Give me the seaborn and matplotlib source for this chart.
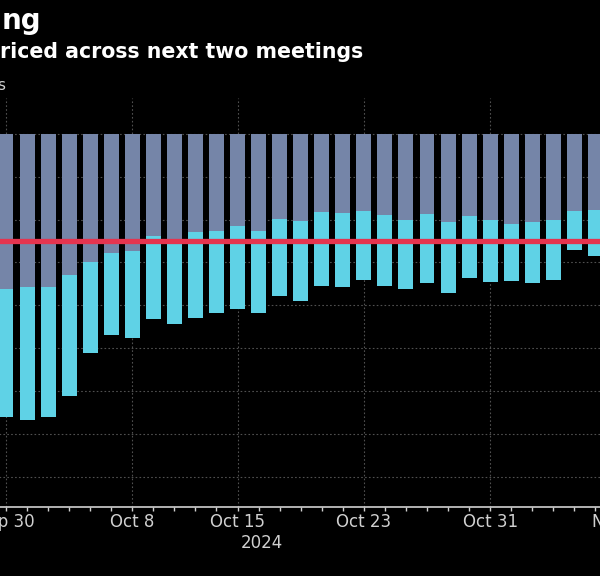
import pandas as pd
import matplotlib
matplotlib.use("Agg")
import matplotlib.pyplot as plt
import seaborn as sns


# business days shown on the axis (last one only carries a tick label)
days = pd.bdate_range('2024-09-30', '2024-11-08')
day_keys = [d.strftime('%Y-%m-%d') for d in days]

# bps of cuts priced, first meeting and both meetings together
first_meeting = [-36.1, -35.8, -35.7, -32.9, -29.9, -27.7, -27.3, -23.8, -25.0, -23.0,
                 -22.6, -21.5, -22.7, -19.8, -20.3, -18.2, -18.4, -18.1, -18.9, -20.1,
                 -18.7, -20.6, -19.2, -20.0, -21.0, -20.6, -20.1, -18.1, -17.8]
both_meetings = [-66.2, -66.7, -66.0, -61.1, -51.2, -47.0, -47.7, -43.2, -44.4, -42.9,
                 -41.7, -40.8, -41.7, -37.9, -39.0, -35.4, -35.8, -34.0, -35.4, -36.2,
                 -34.8, -37.1, -33.6, -34.6, -34.3, -34.7, -34.0, -27.2, -28.4]

tick_labels = {'2024-09-30': 'Sep 30', '2024-10-08': 'Oct 8', '2024-10-15': 'Oct 15',
               '2024-10-23': 'Oct 23', '2024-10-31': 'Oct 31', '2024-11-08': 'Nov 8'}
one_cut = -25

df = pd.DataFrame({'day': day_keys[:len(first_meeting)],
                   'first': first_meeting,
                   'both': both_meetings})

sns.set_theme(style="dark", rc={
    'figure.facecolor': 'black',
    'axes.facecolor': 'black',
    'savefig.facecolor': 'black',
    'text.color': 'white',
    'xtick.color': '#d0d0d0',
    'axes.labelcolor': '#d0d0d0',
})
plt.rcParams['font.family'] = ['DejaVu Sans']

fig = plt.figure(figsize=(6, 5.76), dpi=100)
# axes reach past the canvas on both sides, like the cropped original
ax = fig.add_axes([-0.0251, 0.1198, 1.0876, 0.7101])

sns.barplot(data=df, x='day', y='both', order=day_keys, color='#5fd2e6',
            saturation=1, width=0.71, edgecolor='none', linewidth=0, ax=ax, zorder=2)
sns.barplot(data=df, x='day', y='first', order=day_keys, color='#7585a8',
            saturation=1, width=0.71, edgecolor='none', linewidth=0, ax=ax, zorder=3)

ax.axhline(one_cut, color='#e5344f', lw=3.8, zorder=4)

ax.set_xlim(-1, 30)
ax.set_ylim(-87.1, 8.4)

# dotted grid
ax.set_yticks(range(-80, 1, 10))
ax.yaxis.grid(True, color='#505050', linestyle=(0, (1.5, 2)), lw=0.8)
ax.tick_params(axis='y', left=False, labelleft=False)
for k in tick_labels:
    ax.axvline(day_keys.index(k), color='#505050', linestyle=(0, (1.5, 2)), lw=0.8, zorder=1)
ax.xaxis.grid(False)
ax.set_axisbelow(True)

ax.set_xticks(range(len(day_keys)))
ax.set_xticklabels([tick_labels.get(k, '') for k in day_keys], fontsize=12)
ax.tick_params(axis='x', bottom=True, length=3, width=1, color='#d0d0d0', pad=1.5)
ax.set_xlabel('')
ax.set_ylabel('')

for s in ['top', 'left', 'right']:
    ax.spines[s].set_visible(False)
ax.spines['bottom'].set_color('#d0d0d0')
ax.spines['bottom'].set_linewidth(1.2)

fig.text(0.003, 1 - 29 / 576, 'ng', fontsize=20, weight='bold', va='baseline', ha='left')
fig.text(0.0, 1 - 58 / 576, 'riced across next two meetings', fontsize=14.8,
         weight='bold', va='baseline', ha='left')
fig.text(0.008, 1 - 90 / 576, 's', fontsize=11, color='#d0d0d0', va='baseline', ha='right')
fig.text(262 / 600, 1 - 548 / 576, '2024', fontsize=12, color='#d0d0d0',
         va='baseline', ha='center')

fig.savefig('out.png', dpi=100)
